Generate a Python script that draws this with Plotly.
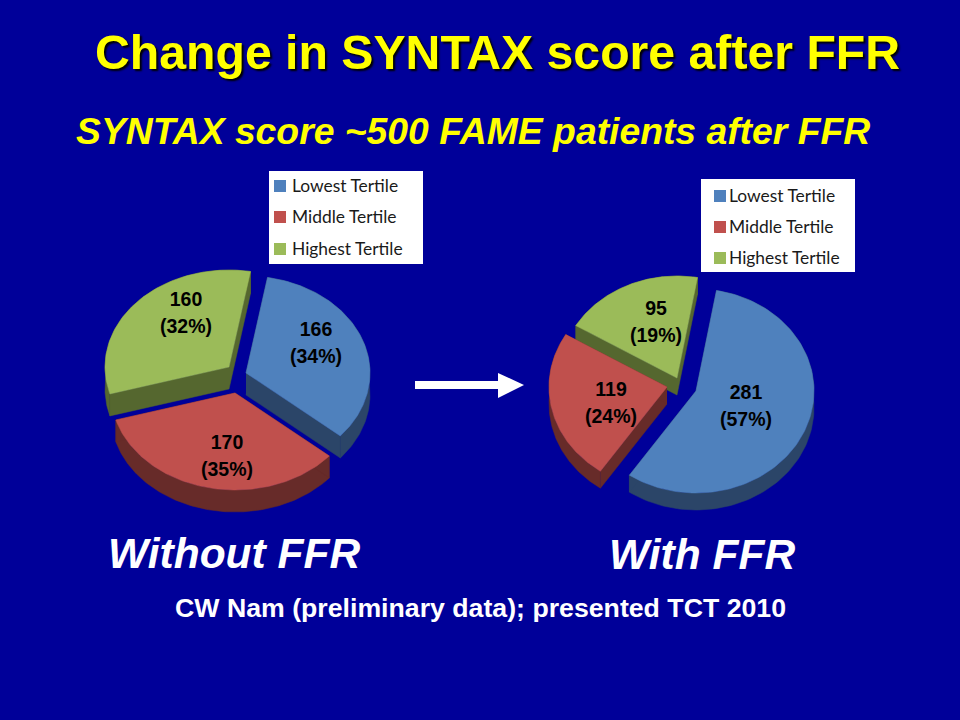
import numpy as np
import plotly.graph_objects as go

# ---- data ----
categories = ["Lowest Tertile", "Middle Tertile", "Highest Tertile"]
without_ffr_counts = [166, 170, 160]
without_ffr_pct = [34, 35, 32]
with_ffr_counts = [281, 119, 95]
with_ffr_pct = [57, 24, 19]

# ---- styles ----
BG = "#000099"
TOP = ["#4F81BD", "#C0504D", "#9BBB59"]
SIDE = ["#2B4568", "#672B29", "#55672F"]
SANS = "Liberation Sans"
LEG_FONT = "Lato"

LEFT = dict(cx=236, cy=378, rx=124, ry=97, depth=22, start=10,
            explode=[(10, -5), (-1, 15), (-7, -11)], order=[2, 0, 1],
            label_xy=[(316, 331), (227, 444), (186, 301)])
RIGHT = dict(cx=682, cy=384, rx=118, ry=102, depth=17, start=10,
             explode=[(14, 7), (-15, 3), (-5, -6)], order=[2, 1, 0],
             label_xy=[(746, 394), (611, 391), (656, 310)])
LINE_GAP = 27

fig = go.Figure()


def poly(xs, ys, color):
    fig.add_trace(go.Scatter(x=xs, y=ys, mode="lines", fill="toself", fillcolor=color,
                             line=dict(color=color, width=0.5), hoverinfo="skip",
                             showlegend=False))


def draw_pie(values, pct, g):
    total = sum(values)
    a0 = g["start"]
    wedges = []
    for v, off in zip(values, g["explode"]):
        a1 = a0 + 360 * v / total
        wedges.append((a0, a1, off))
        a0 = a1
    for i in g["order"]:
        a0, a1, off = wedges[i]
        ax = g["cx"] + off[0]
        ay = g["cy"] + off[1]
        t = np.radians(np.linspace(a0, a1, 121))
        ex = ax + g["rx"] * np.sin(t)
        ey = ay - g["ry"] * np.cos(t)
        d = g["depth"]
        # extruded walls: outer band and the two cut faces
        poly(np.r_[ex, ex[::-1]], np.r_[ey, ey[::-1] + d], SIDE[i])
        poly([ax, ex[0], ex[0], ax], [ay, ey[0], ey[0] + d, ay + d], SIDE[i])
        poly([ax, ex[-1], ex[-1], ax], [ay, ey[-1], ey[-1] + d, ay + d], SIDE[i])
        # top face
        poly(np.r_[ax, ex, ax], np.r_[ay, ey, ay], TOP[i])
    # value labels
    for v, q, (lx, ly) in zip(values, pct, g["label_xy"]):
        fig.add_trace(go.Scatter(x=[lx, lx], y=[ly, ly + LINE_GAP], mode="text",
                                 text=[f"{v}", f"({q}%)"], textposition="middle center",
                                 textfont=dict(family=SANS, size=19.5, color="#000000", weight="bold"),
                                 hoverinfo="skip", showlegend=False))


def draw_legend(box, swatch_x, text_x, rows):
    fig.add_shape(type="rect", x0=box[0], y0=box[1], x1=box[2], y1=box[3],
                  fillcolor="white", line_width=0, layer="below")
    fig.add_trace(go.Scatter(x=[swatch_x] * 3, y=rows, mode="markers",
                             marker=dict(symbol="square", size=12, color=TOP),
                             hoverinfo="skip", showlegend=False))
    fig.add_trace(go.Scatter(x=[text_x] * 3, y=[r + 2 for r in rows], mode="text", text=categories,
                             textposition="middle right",
                             textfont=dict(family=LEG_FONT, size=17.4, color="#1a1a1a"),
                             hoverinfo="skip", showlegend=False))


draw_pie(without_ffr_counts, without_ffr_pct, LEFT)
draw_pie(with_ffr_counts, with_ffr_pct, RIGHT)
draw_legend((269, 171, 423, 264), 280, 292, [186, 217, 249])
draw_legend((701, 179, 855, 272), 720, 729, [196, 227, 258])

# arrow between the pies
fig.add_shape(type="path", path="M415,381 L498,381 L498,373 L524,385 L498,398 L498,389 L415,389 Z",
              fillcolor="white", line_width=0)


def txt(x, y, s, size, color, italic=False, shadow=False):
    fig.add_annotation(x=x, y=y, text=s, showarrow=False, xanchor="center", yanchor="middle",
                       font=dict(family=SANS, size=size, color=color, weight="bold",
                                 style="italic" if italic else "normal",
                                 shadow="2px 2px 2px #000000" if shadow else "none"))


txt(497, 52, "Change in SYNTAX score after FFR", 48.2, "#FFFF00", shadow=True)
txt(473, 131, "SYNTAX score ~500 FAME patients after FFR", 37.3, "#FFFF00", italic=True)
txt(234, 553, "Without FFR", 42.5, "#FFFFFF", italic=True)
txt(702, 554, "With FFR", 42.5, "#FFFFFF", italic=True)
txt(480, 608, "CW Nam (preliminary data); presented TCT 2010", 26.7, "#FFFFFF")

fig.update_layout(width=960, height=720, margin=dict(l=0, r=0, t=0, b=0),
                  paper_bgcolor=BG, plot_bgcolor=BG, showlegend=False,
                  xaxis=dict(range=[0, 960], visible=False, fixedrange=True),
                  yaxis=dict(range=[720, 0], visible=False, fixedrange=True))

fig.write_html("out.html", config=dict(displayModeBar=False),
               post_script="document.body.style.margin='0';document.body.style.overflow='hidden';document.body.style.background='#000099';")
